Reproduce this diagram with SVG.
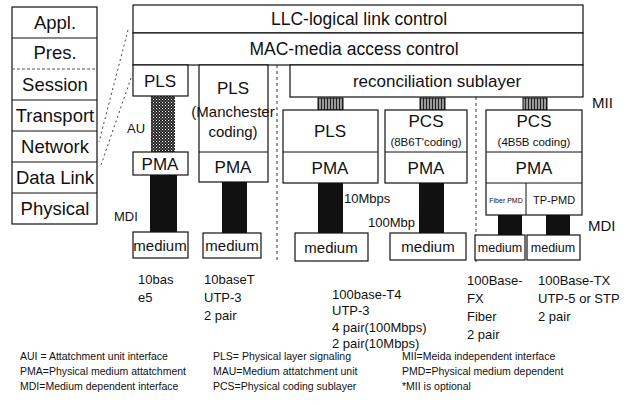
<svg xmlns="http://www.w3.org/2000/svg" width="626" height="405" viewBox="0 0 626 405">
<style>
text{font-family:"Liberation Sans",Arial,sans-serif;fill:#111}
.box{fill:#fff;stroke:#111;stroke-width:1.2}
.osi{font-size:18.5px;text-anchor:middle}
.lbl{font-size:17px;text-anchor:middle}
.big{font-size:17.5px;text-anchor:middle}
.med{font-size:15px;text-anchor:middle}
.sm{font-size:13px}
.leg{font-size:10.5px}
.bar{fill:#111}
.dot{stroke:#444;stroke-width:1;stroke-dasharray:2 3;fill:none}
.sep{stroke:#333;stroke-width:1;stroke-dasharray:3 3;fill:none}
</style>
<defs>
<pattern id="aui" width="3" height="3" patternUnits="userSpaceOnUse">
<rect width="3" height="3" fill="#222"/>
<rect x="0" y="0" width="1" height="1" fill="#fff"/>
<rect x="1.5" y="1.5" width="1" height="1" fill="#ccc"/>
</pattern>
<pattern id="mii" width="3" height="3" patternUnits="userSpaceOnUse">
<rect width="3" height="3" fill="#999"/>
<rect x="0" width="1" height="3" fill="#222"/>
</pattern>
</defs>

<g id="osi">
<rect class="box" x="12" y="7" width="85" height="217"/>
<line x1="12" y1="38" x2="97" y2="38" stroke="#111"/>
<line x1="12" y1="69" x2="97" y2="69" stroke="#555" stroke-dasharray="3 2"/>
<line x1="12" y1="100" x2="97" y2="100" stroke="#111"/>
<line x1="12" y1="131" x2="97" y2="131" stroke="#111"/>
<line x1="12" y1="162" x2="97" y2="162" stroke="#111"/>
<line x1="12" y1="193" x2="97" y2="193" stroke="#111"/>
<text class="osi" x="55" y="29">Appl.</text>
<text class="osi" x="55" y="59">Pres.</text>
<text class="osi" x="55" y="91">Session</text>
<text class="osi" x="55" y="122">Transport</text>
<text class="osi" x="55" y="153">Network</text>
<text class="osi" x="55" y="184">Data Link</text>
<text class="osi" x="55" y="215">Physical</text>
</g>

<g id="connectors">
<line class="dot" x1="128" y1="30" x2="99" y2="142"/>
<line class="dot" x1="131" y1="78" x2="101" y2="165"/>
<line class="sep" x1="277" y1="65" x2="277" y2="262"/>
<line class="sep" x1="476" y1="97" x2="476" y2="262"/>
<rect x="151" y="96" width="24" height="56" fill="url(#aui)"/>
<rect class="bar" x="150" y="175" width="27" height="57"/>
<rect class="bar" x="222" y="182" width="25" height="51"/>
<rect class="bar" x="318" y="183" width="25" height="50"/>
<rect class="bar" x="419" y="183" width="25" height="50"/>
<rect class="bar" x="498" y="215" width="24" height="20"/>
<rect class="bar" x="546" y="215" width="24" height="20"/>
<rect x="318" y="98" width="25" height="12" fill="url(#mii)" stroke="#111"/>
<rect x="420" y="98" width="25" height="12" fill="url(#mii)" stroke="#111"/>
<rect x="523" y="98" width="24" height="12" fill="url(#mii)" stroke="#111"/>
</g>

<g id="llc">
<rect class="box" x="133" y="5" width="450" height="28"/>
<text class="big" x="359" y="25">LLC-logical link control</text>
</g>
<g id="mac">
<rect class="box" x="133" y="33" width="450" height="32"/>
<text class="big" x="354" y="55">MAC-media access control</text>
</g>
<g id="recon">
<rect class="box" x="290" y="65" width="293" height="32"/>
<text class="lbl" x="437" y="87">reconciliation sublayer</text>
</g>

<g id="col1-pls">
<rect class="box" x="133" y="65" width="55" height="31"/>
<text class="lbl" x="160" y="87">PLS</text>
</g>
<g id="col1-pma">
<rect class="box" x="133" y="152" width="55" height="23"/>
<text class="lbl" x="160" y="170">PMA</text>
</g>
<g id="col1-medium">
<rect class="box" x="133" y="232" width="55" height="26"/>
<text class="med" x="160" y="251">medium</text>
</g>

<g id="col2">
<rect class="box" x="199" y="65" width="69" height="117"/>
<line x1="199" y1="152" x2="268" y2="152" stroke="#111"/>
<text class="lbl" x="233" y="94">PLS</text>
<text class="med" x="233" y="117">(Manchester</text>
<text class="med" x="233" y="137">coding)</text>
<text class="lbl" x="233" y="173">PMA</text>
</g>
<g id="col2-medium">
<rect class="box" x="203" y="233" width="58" height="25"/>
<text class="med" x="232" y="251">medium</text>
</g>

<g id="col3">
<rect class="box" x="283" y="110" width="95" height="73"/>
<line x1="283" y1="152" x2="378" y2="152" stroke="#111"/>
<text class="lbl" x="330" y="137">PLS</text>
<text class="lbl" x="330" y="174">PMA</text>
</g>
<g id="col3-medium">
<rect class="box" x="295" y="233" width="73" height="28"/>
<text class="med" x="331" y="253">medium</text>
</g>

<g id="col4">
<rect class="box" x="385" y="110" width="82" height="73"/>
<line x1="385" y1="152" x2="467" y2="152" stroke="#111"/>
<text class="lbl" x="426" y="127">PCS</text>
<text x="426" y="146" font-size="11.5" text-anchor="middle">(8B6T'coding)</text>
<text class="lbl" x="426" y="174">PMA</text>
</g>
<g id="col4-medium">
<rect class="box" x="390" y="233" width="76" height="27"/>
<text class="med" x="428" y="252">medium</text>
</g>

<g id="col5">
<rect class="box" x="486" y="110" width="96" height="105"/>
<line x1="486" y1="152" x2="582" y2="152" stroke="#111"/>
<line x1="486" y1="183" x2="582" y2="183" stroke="#111"/>
<line x1="526" y1="183" x2="526" y2="215" stroke="#111"/>
<text class="lbl" x="534" y="127">PCS</text>
<text x="534" y="146" font-size="11.5" text-anchor="middle">(4B5B coding)</text>
<text class="lbl" x="534" y="174">PMA</text>
<text x="506" y="203" font-size="7" text-anchor="middle">Fiber PMD</text>
<text x="554" y="204" font-size="11" text-anchor="middle">TP-PMD</text>
</g>
<g id="col5-medium-fx">
<rect class="box" x="475" y="235" width="50" height="25"/>
<text x="500" y="252" font-size="12.5" text-anchor="middle">medium</text>
</g>
<g id="col5-medium-tx">
<rect class="box" x="527" y="235" width="53" height="25"/>
<text x="553" y="252" font-size="12.5" text-anchor="middle">medium</text>
</g>

<g id="labels">
<text class="sm" x="127" y="133">AU</text>
<text class="sm" x="114" y="221">MDI</text>
<text class="sm" x="344" y="203">10Mbps</text>
<text class="sm" x="368" y="227">100Mbp</text>
<text x="592" y="108" font-size="15">MII</text>
<text x="588" y="231" font-size="15">MDI</text>
</g>

<g id="bottom">
<text class="sm" x="138" y="284">10bas</text>
<text class="sm" x="138" y="302">e5</text>
<text class="sm" x="204" y="284">10baseT</text>
<text class="sm" x="204" y="302">UTP-3</text>
<text class="sm" x="204" y="320">2 pair</text>
<text class="sm" x="332" y="299">100base-T4</text>
<text class="sm" x="332" y="315">UTP-3</text>
<text class="sm" x="332" y="332">4 pair(100Mbps)</text>
<text class="sm" x="332" y="348">2 pair(10Mbps)</text>
<text class="sm" x="467" y="285">100Base-</text>
<text class="sm" x="467" y="303">FX</text>
<text class="sm" x="467" y="321">Fiber</text>
<text class="sm" x="467" y="339">2 pair</text>
<text class="sm" x="538" y="285">100Base-TX</text>
<text class="sm" x="538" y="303">UTP-5 or STP</text>
<text class="sm" x="538" y="321">2 pair</text>
</g>

<g id="legend">
<text class="leg" x="20" y="360">AUI = Attatchment unit interface</text>
<text class="leg" x="20" y="375">PMA=Physical medium attatchment</text>
<text class="leg" x="20" y="390">MDI=Medium dependent interface</text>
<text class="leg" x="213" y="360">PLS= Physical layer signaling</text>
<text class="leg" x="213" y="375">MAU=Medium attatchment unit</text>
<text class="leg" x="213" y="390">PCS=Physical coding sublayer</text>
<text class="leg" x="402" y="360">MII=Meida independent interface</text>
<text class="leg" x="402" y="375">PMD=Physical medium dependent</text>
<text class="leg" x="402" y="390">*MII is optional</text>
</g>
</svg>
